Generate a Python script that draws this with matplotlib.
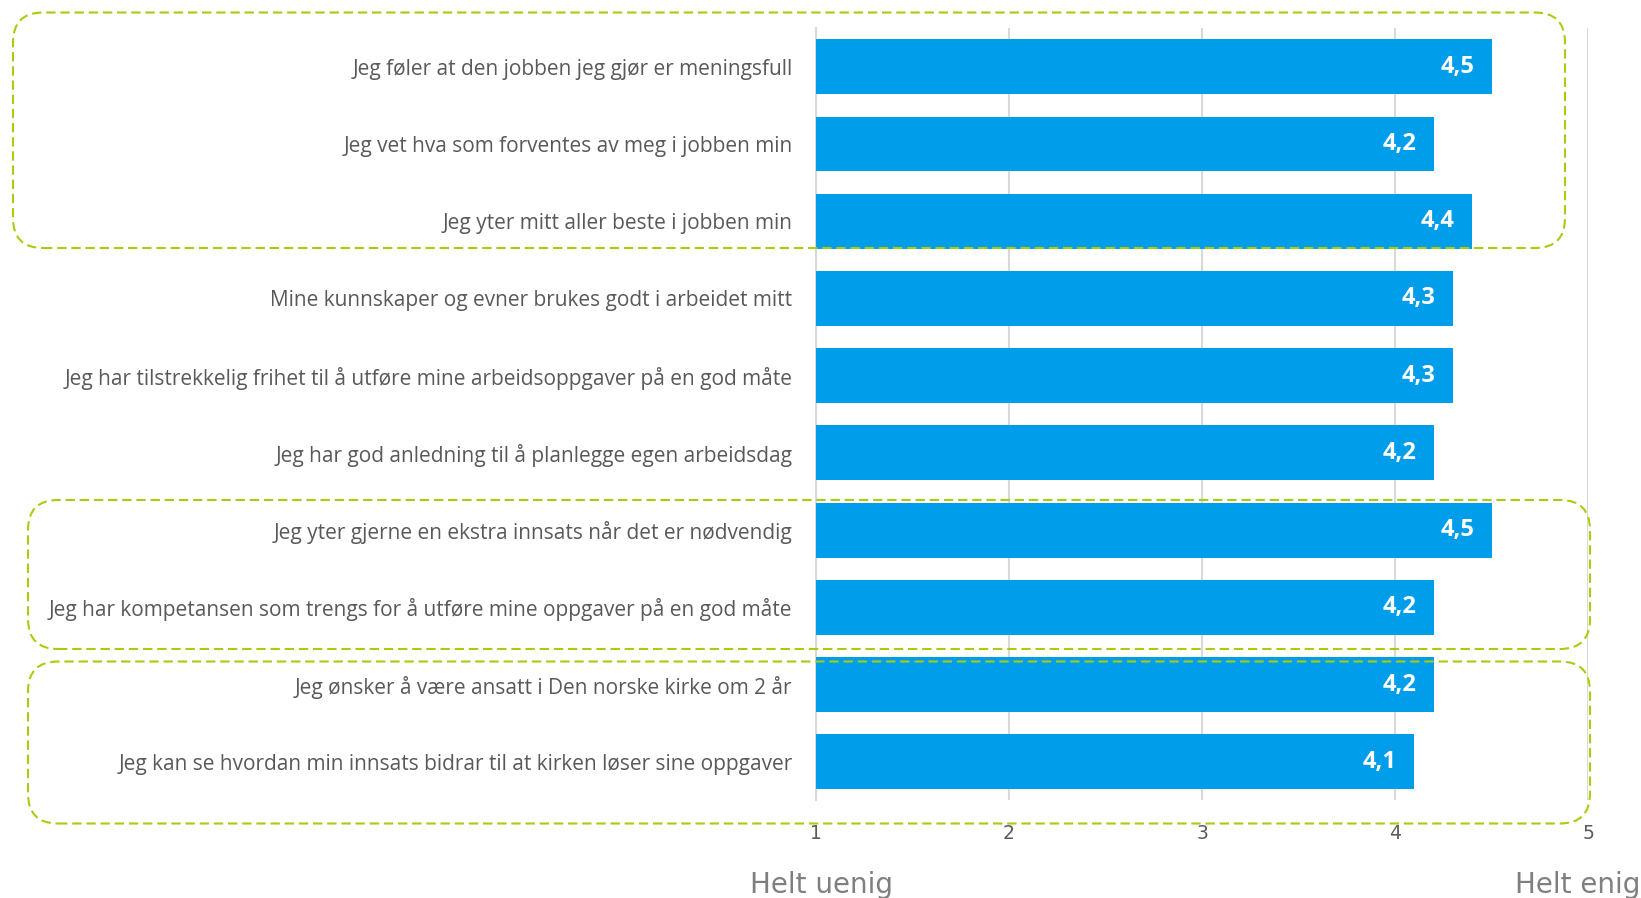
import matplotlib
matplotlib.use("Agg")
import matplotlib.pyplot as plt
from matplotlib.patches import FancyBboxPatch
from matplotlib.transforms import IdentityTransform

categories = [
    "Jeg føler at den jobben jeg gjør er meningsfull",
    "Jeg vet hva som forventes av meg i jobben min",
    "Jeg yter mitt aller beste i jobben min",
    "Mine kunnskaper og evner brukes godt i arbeidet mitt",
    "Jeg har tilstrekkelig frihet til å utføre mine arbeidsoppgaver på en god måte",
    "Jeg har god anledning til å planlegge egen arbeidsdag",
    "Jeg yter gjerne en ekstra innsats når det er nødvendig",
    "Jeg har kompetansen som trengs for å utføre mine oppgaver på en god måte",
    "Jeg ønsker å være ansatt i Den norske kirke om 2 år",
    "Jeg kan se hvordan min innsats bidrar til at kirken løser sine oppgaver",
]
values = [4.5, 4.2, 4.4, 4.3, 4.3, 4.2, 4.5, 4.2, 4.2, 4.1]
xticks = [1, 2, 3, 4, 5]
scale_left = "Helt uenig"
scale_right = "Helt enig"

W, H, DPI = 1641, 898, 100
fig = plt.figure(figsize=(W / DPI, H / DPI), dpi=DPI)
ax = fig.add_axes([816 / W, 1 - 800.4 / H, 772 / W, 772.3 / H])

bar_color = "#009DEA"
grid_color = "#D9D9D9"
text_gray = "#595959"
box_color = "#A6CE0E"

ypos = list(range(len(categories)))
ax.barh(ypos, [v - 1 for v in values], left=1, height=0.71, color=bar_color, zorder=3)

for y, v in zip(ypos, values):
    ax.annotate(f"{v:.1f}".replace(".", ","), xy=(v, y), xytext=(-12.5, 0),
                textcoords="offset points", ha="right", va="center",
                color="white", fontweight="bold", fontsize=17, family="Open Sans", zorder=4)

ax.set_xlim(1, 5)
ax.set_ylim(len(categories) - 0.5, -0.5)
ax.set_yticks(ypos)
ax.set_yticklabels(categories, family="Open Sans", fontsize=15, color=text_gray)
ax.set_xticks(xticks)
ax.set_xticklabels([str(t) for t in xticks], family="DejaVu Sans", fontsize=13.5, color=text_gray)
ax.tick_params(axis="y", length=0, pad=17)
ax.tick_params(axis="x", length=0, pad=17)
ax.xaxis.grid(True, color=grid_color, linewidth=1.5, zorder=0)
ax.set_axisbelow(True)
for s in ["top", "right", "bottom"]:
    ax.spines[s].set_visible(False)
ax.spines["left"].set_color(grid_color)
ax.spines["left"].set_linewidth(1.5)

fig.text(822 / W, 1 - 893 / H, scale_left, ha="center", va="baseline",
         family="DejaVu Sans", fontsize=20, color="#7F7F7F")
fig.text(1640 / W, 1 - 893 / H, scale_right, ha="right", va="baseline",
         family="DejaVu Sans", fontsize=20, color="#7F7F7F")

boxes = [(13, 12.5, 1565, 248), (28, 500, 1590, 649), (28, 661.5, 1590, 823.5)]
for x0, y0, x1, y1 in boxes:
    p = FancyBboxPatch((x0, H - y1), x1 - x0, y1 - y0,
                       boxstyle="round,pad=0,rounding_size=30",
                       transform=IdentityTransform(), fill=False,
                       edgecolor=box_color, linewidth=1.5,
                       linestyle=(0, (4.5, 2.3)), zorder=10)
    fig.add_artist(p)

fig.savefig("out.png", dpi=DPI)
